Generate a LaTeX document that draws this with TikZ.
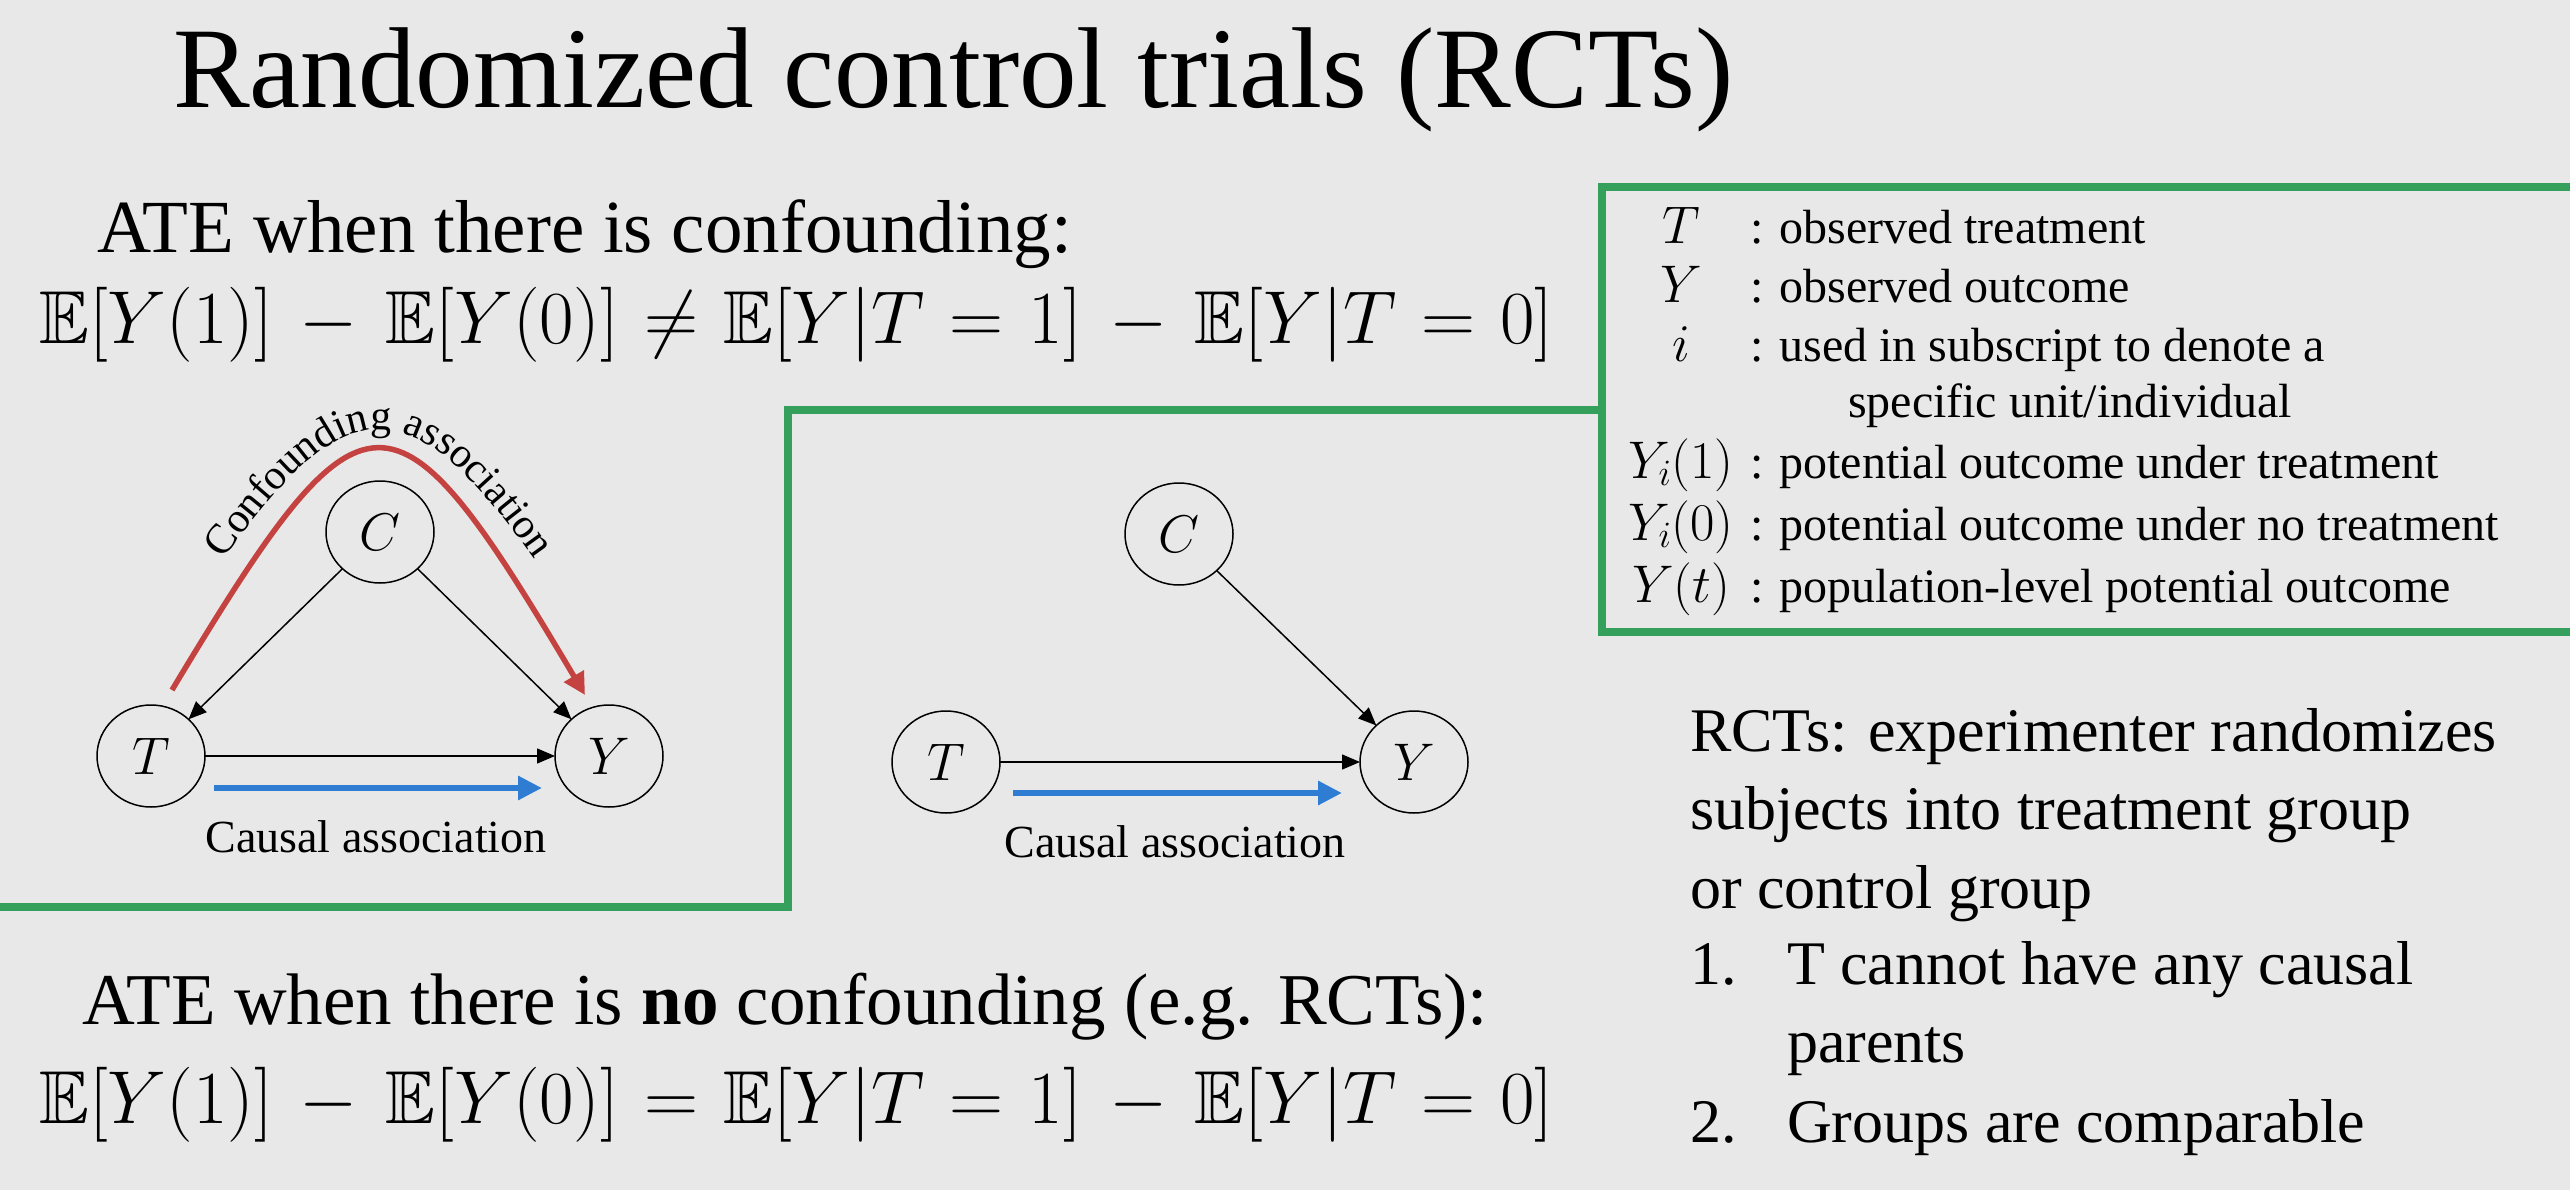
\documentclass[tikz,border=0pt]{standalone}
\usepackage{fix-cm}
\usepackage{amsmath,amssymb}
\usepackage[no-math]{fontspec}
\setmainfont{Liberation Serif}
\usetikzlibrary{arrows.meta,positioning,shapes.geometric,decorations.text}
\definecolor{slidebg}{RGB}{232,232,232}
\definecolor{boxgreen}{RGB}{52,160,92}
\definecolor{confred}{RGB}{196,67,64}
\definecolor{causblue}{RGB}{46,125,210}
\newcommand{\arcfont}{\fontsize{42}{46}\selectfont}

\begin{document}
\begin{tikzpicture}[x=1pt,y=-1pt,
  every node/.style={inner sep=0pt,outer sep=0pt},
  titletxt/.style={anchor=base west,font=\fontsize{115}{120}\selectfont},
  atetxt/.style={anchor=base west,font=\fontsize{73}{80}\selectfont},
  eqtxt/.style={anchor=base west,font={\fontsize{75}{80}\selectfont\medmuskip=6.5mu\thickmuskip=6mu}},
  keysym/.style={anchor=base,font=\fontsize{53}{58}\selectfont},
  keytxt/.style={anchor=base west,font=\fontsize{48}{52}\selectfont},
  rcttxt/.style={anchor=base west,font=\fontsize{62}{68}\selectfont},
  assoctxt/.style={anchor=base,font=\fontsize{46}{50}\selectfont},
  dagnode/.style={draw,ellipse,line width=1.5pt,minimum width=108pt,minimum height=102pt,font=\fontsize{53}{58}\selectfont},
  dagarrow/.style={line width=1.5pt,-{Triangle[length=18pt,width=15pt]}},
  confarrow/.style={confred,line width=5.5pt,-{Triangle[length=22pt,width=22pt]}},
  causarrow/.style={causblue,line width=6pt,-{Triangle[length=24pt,width=23pt]}},
  greenline/.style={boxgreen,line width=7.5pt}]
\path[fill=slidebg,use as bounding box] (0,0) rectangle (2570,1190);
% title and the two ATE statements
\node[titletxt] (title) at (173,108) {Randomized control trials (RCTs)};
\node[atetxt,font=\fontsize{75}{80}\selectfont] (ate1) at (97,253) {ATE when there is confounding:};
\node[eqtxt] (eq1) at (39,344) {$\mathbb{E}[Y(1)]-\mathbb{E}[Y(0)]\neq\mathbb{E}[Y|T=1]-\mathbb{E}[Y|T=0]$};
\node[atetxt] (ate2) at (82,1024) {ATE when there is \textbf{no} confounding (e.g. RCTs):};
\node[eqtxt] (eq2) at (39,1123) {$\mathbb{E}[Y(1)]-\mathbb{E}[Y(0)]=\mathbb{E}[Y|T=1]-\mathbb{E}[Y|T=0]$};
% green separators and notation box
\draw[greenline] (0,907) -- (788,907) -- (788,410) -- (1602,410);
\draw[greenline] (2570,187) -- (1602,187) -- (1602,632) -- (2570,632);
\node[keysym] (kT) at (1681,244) {$T$};
\node[keytxt] (kTt) at (1750,244) {: observed treatment};
\node[keysym] (kY) at (1681,303) {$Y$};
\node[keytxt] (kYt) at (1750,303) {: observed outcome};
\node[keysym] (ki) at (1681,361) {$i$};
\node[keytxt] (kit) at (1750,361) {: used in subscript to denote a};
\node[keytxt] (kit2) at (1848,417) {specific unit/individual};
\node[keysym] (kY1) at (1681,478) {$Y_i(1)$};
\node[keytxt] (kY1t) at (1750,478) {: potential outcome under treatment};
\node[keysym] (kY0) at (1681,540) {$Y_i(0)$};
\node[keytxt] (kY0t) at (1750,540) {: potential outcome under no treatment};
\node[keysym] (kYt) at (1681,602) {$Y(t)$};
\node[keytxt] (kYtt) at (1750,602) {: population-level potential outcome};
% RCT notes
\node[rcttxt] (n1) at (1690,751) {RCTs: experimenter randomizes};
\node[rcttxt] (n2) at (1690,829) {subjects into treatment group};
\node[rcttxt] (n3) at (1690,908) {or control group};
\node[rcttxt] (n4) at (1690,984) {1.};
\node[rcttxt] (n4t) at (1787,984) {T cannot have any causal};
\node[rcttxt] (n5t) at (1787,1062) {parents};
\node[rcttxt] (n6) at (1690,1142) {2.};
\node[rcttxt] (n6t) at (1787,1142) {Groups are comparable};
% graph with confounding
\node[dagnode] (t1) at (151,756) {$T$};
\node[dagnode] (c1) at (380,532) {$C$};
\node[dagnode] (y1) at (609,756) {$Y$};
\draw[dagarrow] (c1) -- (t1);
\draw[dagarrow] (c1) -- (y1);
\draw[dagarrow] (t1) -- (y1);
\coordinate (r1a) at (172,690);
\coordinate (r1b) at (585,695);
\draw[confarrow] (r1a) .. controls (365,369) and (392,369) .. (r1b);
\path[decorate,decoration={text along path,text align=center,text={|\arcfont|Confounding association}}]
  (145,680) .. controls (352,346) and (406,346) .. (613,680);
\coordinate (b1a) at (214,788);
\coordinate (b1b) at (542,788);
\draw[causarrow] (b1a) -- (b1b);
\node[assoctxt] (ca1) at (376,852) {Causal association};
% graph without confounding
\node[dagnode] (t2) at (946,762) {$T$};
\node[dagnode] (c2) at (1179,534) {$C$};
\node[dagnode] (y2) at (1414,762) {$Y$};
\draw[dagarrow] (c2) -- (y2);
\draw[dagarrow] (t2) -- (y2);
\coordinate (b2a) at (1013,793);
\coordinate (b2b) at (1342,793);
\draw[causarrow] (b2a) -- (b2b);
\node[assoctxt] (ca2) at (1175,857) {Causal association};
\end{tikzpicture}
\end{document}
